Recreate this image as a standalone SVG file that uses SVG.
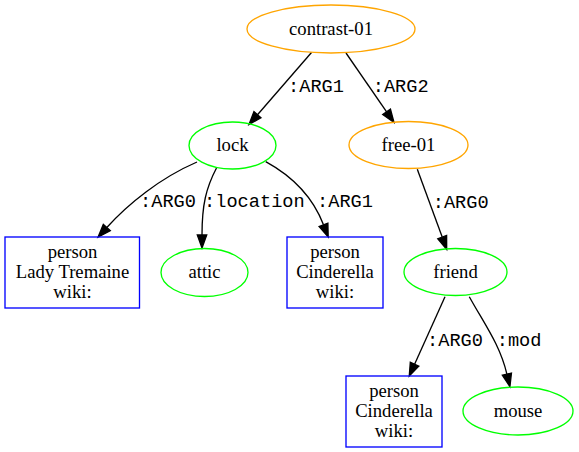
<svg xmlns="http://www.w3.org/2000/svg" width="579" height="452" viewBox="0 0 579 452">
<style>
.bg{fill:#ffffff}
.ell{fill:none;stroke-width:1.33}
.orange{stroke:#ffa500}
.green{stroke:#00ff00}
.box{fill:none;stroke:#0000ff;stroke-width:1.33}
.nt{font-family:"Liberation Serif","Times New Roman",serif;font-size:18.67px;fill:#000;text-anchor:middle}
.el{font-family:"Liberation Mono","Courier New",monospace;font-size:18.67px;fill:#000}
.edge{fill:none;stroke:#000;stroke-width:1.33}
</style>
<defs>
<marker id="arr" markerUnits="userSpaceOnUse" markerWidth="16" markerHeight="12" refX="0" refY="0" viewBox="0 -6 16 12" orient="auto" overflow="visible">
<path d="M0,-4.7 L13,0 L0,4.7 Z" fill="#000" stroke="#000" stroke-width="1.33"/>
</marker>
</defs>
<rect class="bg" x="0" y="0" width="579" height="452"/>
<g id="edges">
<path class="edge" marker-end="url(#arr)" d="M311.5,52.5 L257.5,114.7"/>
<text class="el" x="288" y="92">:ARG1</text>
<path class="edge" marker-end="url(#arr)" d="M346,53 L386.6,111.8"/>
<text class="el" x="372.7" y="92">:ARG2</text>
<path class="edge" marker-end="url(#arr)" d="M197,162 C160,178 128,204 106.8,227.5"/>
<text class="el" x="140" y="207">:ARG0</text>
<path class="edge" marker-end="url(#arr)" d="M216.5,168 C206,188 202,205 202,235"/>
<text class="el" x="204" y="207">:location</text>
<path class="edge" marker-end="url(#arr)" d="M265.7,161.7 C290,175 312,195 323.5,224.8"/>
<text class="el" x="317" y="207">:ARG1</text>
<path class="edge" marker-end="url(#arr)" d="M417.3,169.3 L442.2,237.1"/>
<text class="el" x="432.7" y="208">:ARG0</text>
<path class="edge" marker-end="url(#arr)" d="M445,296.7 L414.6,364.2"/>
<text class="el" x="427" y="346">:ARG0</text>
<path class="edge" marker-end="url(#arr)" d="M469.3,296.7 C485,325 500,345 506.9,374.1"/>
<text class="el" x="496.7" y="346">:mod</text>
</g>
<g id="contrast-01">
<ellipse class="ell orange" cx="331" cy="29" rx="84" ry="24"/>
<text class="nt" x="331" y="35">contrast-01</text>
</g>
<g id="lock">
<ellipse class="ell green" cx="232.5" cy="145.5" rx="43.5" ry="23.5"/>
<text class="nt" x="232.5" y="151">lock</text>
</g>
<g id="free-01">
<ellipse class="ell orange" cx="408.5" cy="145" rx="59.5" ry="23.5"/>
<text class="nt" x="408.5" y="151">free-01</text>
</g>
<g id="person-lady-tremaine">
<rect class="box" x="5" y="237" width="134.5" height="71"/>
<text class="nt" x="72.5" y="258">person</text>
<text class="nt" x="72.5" y="278">Lady Tremaine</text>
<text class="nt" x="72.5" y="298">wiki:</text>
</g>
<g id="attic">
<ellipse class="ell green" cx="204.5" cy="272.5" rx="43.5" ry="24"/>
<text class="nt" x="204.5" y="278">attic</text>
</g>
<g id="person-cinderella-1">
<rect class="box" x="287" y="237" width="96" height="71"/>
<text class="nt" x="335" y="258">person</text>
<text class="nt" x="335" y="278">Cinderella</text>
<text class="nt" x="335" y="298">wiki:</text>
</g>
<g id="friend">
<ellipse class="ell green" cx="455.5" cy="272" rx="51.5" ry="23.5"/>
<text class="nt" x="455.5" y="278">friend</text>
</g>
<g id="person-cinderella-2">
<rect class="box" x="346" y="376" width="96" height="71"/>
<text class="nt" x="394" y="397">person</text>
<text class="nt" x="394" y="417">Cinderella</text>
<text class="nt" x="394" y="437">wiki:</text>
</g>
<g id="mouse">
<ellipse class="ell green" cx="518" cy="411" rx="55" ry="24"/>
<text class="nt" x="518" y="417">mouse</text>
</g>
</svg>
